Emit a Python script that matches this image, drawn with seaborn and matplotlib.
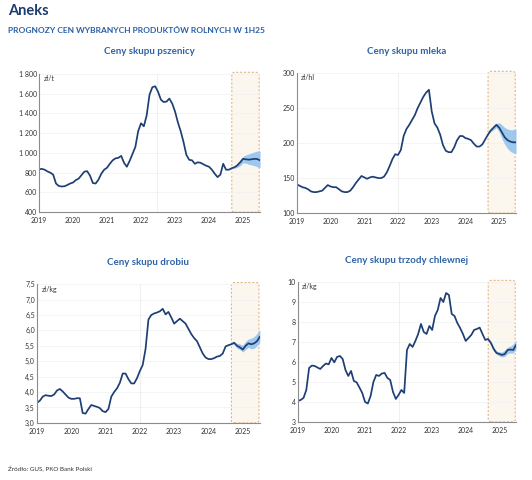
import numpy as np
import pandas as pd
import seaborn as sns
import matplotlib.pyplot as plt
from matplotlib.patches import FancyBboxPatch
from matplotlib.ticker import FuncFormatter

# monthly data Jan 2019 .. Jul 2025
months = pd.date_range("2019-01-01", "2025-07-01", freq="MS")
x = months.year + (months.month - 1) / 12

wheat = [835, 838, 830, 812, 800, 780, 690, 665, 660, 662, 675, 690,
         700, 725, 740, 775, 810, 815, 770, 695, 690, 730, 790, 830,
         850, 890, 925, 945, 950, 970, 900, 860, 920, 990, 1060, 1220,
         1300, 1270, 1380, 1590, 1665, 1675, 1620, 1540, 1515, 1520, 1550, 1500,
         1420, 1310, 1220, 1110, 980, 930, 925, 890, 905, 900, 885, 870,
         860, 830, 790, 755, 780, 890, 830, 830, 845, 855, 875, 905,
         940, 935, 932, 935, 940, 938, 925]
wheat_hi = [845, 865, 890, 930, 965, 980, 990, 1000, 1010, 1020, 1020]
wheat_lo = [845, 845, 855, 870, 900, 895, 885, 878, 870, 860, 850]

milk = [141, 139, 137, 136, 134, 131, 130, 130, 131, 132, 136, 140,
        138, 137, 137, 134, 131, 130, 130, 132, 137, 143, 148, 153,
        151, 149, 151, 152, 151, 150, 150, 152, 158, 167, 177, 184,
        183, 190, 210, 220, 226, 233, 240, 250, 258, 266, 272, 276,
        245, 228, 222, 212, 197, 189, 187, 187, 194, 204, 210, 210,
        207, 206, 204, 199, 195, 195, 198, 205, 212, 218, 222, 226,
        222, 215, 208, 204, 202, 201, 201]
milk_hi = [212, 220, 225, 228, 229, 226, 222, 220, 219, 219, 220]
milk_lo = [212, 216, 219, 222, 216, 206, 198, 192, 188, 186, 185]

poultry = [3.65, 3.72, 3.85, 3.90, 3.88, 3.87, 3.92, 4.05, 4.10, 4.02, 3.92, 3.82,
           3.78, 3.78, 3.80, 3.80, 3.32, 3.30, 3.45, 3.58, 3.55, 3.52, 3.48, 3.38,
           3.35, 3.45, 3.85, 4.00, 4.12, 4.30, 4.60, 4.60, 4.42, 4.28, 4.28, 4.45,
           4.68, 4.88, 5.40, 6.35, 6.50, 6.55, 6.58, 6.62, 6.70, 6.52, 6.60, 6.42,
           6.22, 6.30, 6.38, 6.30, 6.22, 6.05, 5.88, 5.75, 5.65, 5.45, 5.25, 5.12,
           5.07, 5.07, 5.10, 5.15, 5.17, 5.25, 5.48, 5.52, 5.55, 5.60, 5.50, 5.45,
           5.38, 5.50, 5.58, 5.55, 5.58, 5.65, 5.80]
poultry_hi = [5.55, 5.62, 5.58, 5.56, 5.52, 5.65, 5.72, 5.75, 5.80, 5.90, 6.02]
poultry_lo = [5.55, 5.55, 5.42, 5.38, 5.30, 5.38, 5.45, 5.40, 5.42, 5.50, 5.62]

pork = [4.05, 4.10, 4.20, 4.60, 5.70, 5.82, 5.80, 5.72, 5.65, 5.80, 5.92, 5.88,
        6.20, 5.98, 6.25, 6.30, 6.15, 5.60, 5.30, 5.55, 5.05, 4.98, 4.72, 4.45,
        4.00, 3.92, 4.30, 5.00, 5.35, 5.30, 5.42, 5.45, 5.20, 5.10, 4.50, 4.15,
        4.35, 4.60, 4.45, 6.60, 6.90, 6.75, 7.05, 7.40, 7.90, 7.50, 7.40, 7.80,
        7.60, 8.30, 8.60, 9.20, 9.00, 9.45, 9.35, 8.40, 8.30, 7.95, 7.70, 7.40,
        7.05, 7.20, 7.35, 7.60, 7.65, 7.72, 7.40, 7.10, 7.15, 6.95, 6.65, 6.45,
        6.40, 6.35, 6.40, 6.60, 6.62, 6.60, 6.85]
pork_hi = [7.15, 7.05, 6.75, 6.55, 6.50, 6.50, 6.60, 6.75, 6.80, 6.90, 7.10]
pork_lo = [7.15, 6.88, 6.55, 6.38, 6.30, 6.25, 6.28, 6.42, 6.45, 6.45, 6.62]

band_start = 68  # Sep 2024

LINE = "#1d3f73"
BAND = "#8fc0ee"
TITLE = "#2e63a6"

sns.set_theme(style="white")
plt.rcParams['font.family'] = ['Lato', 'DejaVu Sans']

fig = plt.figure(figsize=(5.32, 4.8), dpi=100)

def pl_fmt(dec):
    def f(v, pos):
        if dec == 0:
            s = f"{v:,.0f}".replace(",", " ")
        else:
            s = f"{v:.{dec}f}".replace(".", ",")
        return s
    return FuncFormatter(f)

def panel(rect, title, unit, vals, hi, lo, yticks, dec, vline):
    ax = fig.add_axes(rect)
    df = pd.DataFrame({"x": x, "y": vals})
    # forecast box (dashed, rounded)
    x0 = (2024.67 - 2019) / 6.5
    box = FancyBboxPatch((x0, 0.0), 0.996 - x0, 1.012,
                         boxstyle="round,pad=0,rounding_size=0.015",
                         transform=ax.transAxes, facecolor="#fbf7ee",
                         edgecolor="#e2a86a", linestyle=(0, (2, 2)),
                         linewidth=0.7, clip_on=False, zorder=0)
    ax.add_patch(box)
    for t in yticks[1:]:
        ax.axhline(t, color="#f2f2f2", linewidth=0.6, zorder=0.5)
    ax.axvline(vline, color="#ececec", linewidth=0.6, zorder=0.5)
    xb = x[band_start:]
    ax.fill_between(xb, lo, hi, color=BAND, linewidth=0, alpha=0.85, zorder=1)
    sns.lineplot(data=df, x="x", y="y", ax=ax, color=LINE, linewidth=1.25, zorder=2)
    ax.set_xlim(2019, 2025.5)
    ax.set_ylim(yticks[0], yticks[-1])
    ax.set_yticks(yticks)
    ax.yaxis.set_major_formatter(pl_fmt(dec))
    ax.set_xticks(range(2019, 2026))
    ax.set_xlabel("")
    ax.set_ylabel("")
    for s in ["top", "right"]:
        ax.spines[s].set_visible(False)
    for s in ["left", "bottom"]:
        ax.spines[s].set_color("#8c8c8c")
        ax.spines[s].set_linewidth(0.8)
    ax.tick_params(axis="both", labelsize=5, colors="#333333", length=2,
                   width=0.6, pad=1.5)
    ax.tick_params(axis="y", length=0)
    ax.set_title(title, fontsize=7, color=TITLE, fontweight="bold", pad=14)
    ax.text(0.02, 0.99, unit, transform=ax.transAxes, fontsize=5,
            color="#333333", va="top", ha="left")
    return ax

panel([0.0733, 0.558, 0.4155, 0.288], "Ceny skupu pszenicy", "zł/t",
      wheat, wheat_hi, wheat_lo, list(range(400, 1801, 200)), 0, 2022.47)
panel([0.558, 0.556, 0.412, 0.292], "Ceny skupu mleka", "zł/hl",
      milk, milk_hi, milk_lo, list(range(100, 301, 50)), 0, 2022.0)
panel([0.0695, 0.119, 0.419, 0.289], "Ceny skupu drobiu", "zł/kg",
      poultry, poultry_hi, poultry_lo, list(np.arange(3.0, 7.51, 0.5)), 1, 2022.0)
panel([0.560, 0.121, 0.41, 0.2915], "Ceny skupu trzody chlewnej", "zł/kg",
      pork, pork_hi, pork_lo, list(range(3, 11)), 0, 2022.0)

fig.text(0.015, 0.978, "Aneks", fontsize=10.5, color="#1d3b6e",
         fontweight="bold", va="center", ha="left")
fig.text(0.015, 0.937, "PROGNOZY CEN WYBRANYCH PRODUKTÓW ROLNYCH W 1H25",
         fontsize=6.0, color="#2a5fa5", fontweight="bold", va="center", ha="left")
fig.text(0.015, 0.023, "Źródło: GUS, PKO Bank Polski", fontsize=4.5,
         color="#333333", va="center", ha="left")

fig.savefig("out.png", dpi=100, facecolor="white")
